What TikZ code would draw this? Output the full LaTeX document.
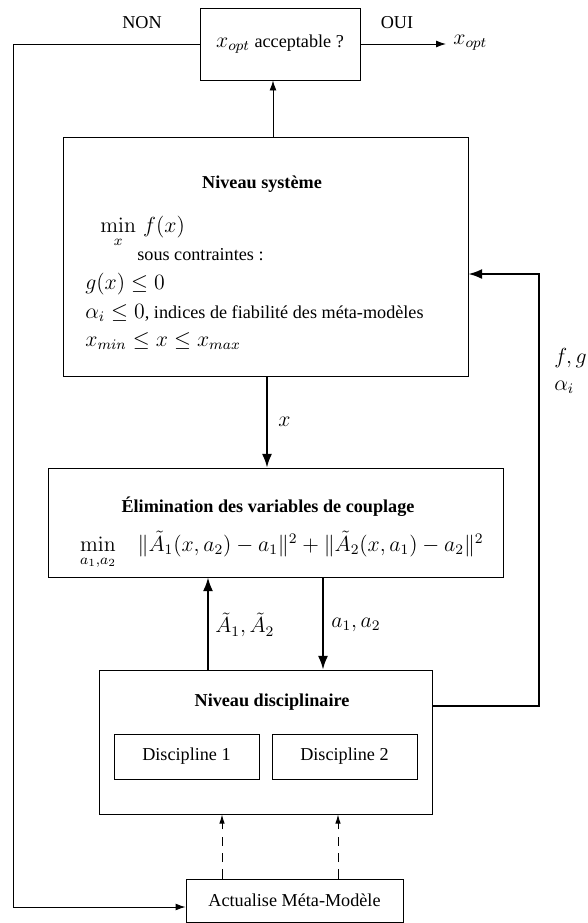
\documentclass[tikz,border=0pt]{standalone}
\usepackage{amsmath}
\usepackage{amssymb}
\usepackage[no-math]{fontspec}
\setmainfont{Liberation Serif}
\DeclareMathSizes{10}{12}{8}{6}
\usetikzlibrary{arrows.meta}

\begin{document}
\begin{tikzpicture}[x=0.55pt,y=-0.55pt,
	every node/.style={black},
	box/.style={draw,line width=0.5pt,inner sep=0pt},
	lbl/.style={inner sep=0pt},
	fin/.style={line width=0.5pt,-{Latex[length=5.5pt,width=3.8pt]}},
	gros/.style={line width=1pt,-{Latex[length=7.5pt,width=5.5pt]}},
	tirets/.style={line width=0.5pt,dash pattern=on 5pt off 4pt,-{Latex[length=5pt,width=3pt]}}]
	\useasboundingbox (0,0) rectangle (587,923);

	\coordinate (coin) at (13,907);
	\coordinate (fb1) at (539,706);
	\coordinate (fb2) at (539,274);

	% les boites
	\node[box,minimum width=88pt,minimum height=39.6pt] (acc) at (280,44) {$x_{opt}$ acceptable ?};
	\node[box,minimum width=222.75pt,minimum height=131.45pt] (sys) at (265.5,256.5) {};
	\node[box,minimum width=250.25pt,minimum height=59.95pt] (elim) at (275.5,522.5) {};
	\node[box,minimum width=183.15pt,minimum height=79.2pt] (disc) at (265.5,742) {};
	\node[box,minimum width=79.75pt,minimum height=24.75pt] (d1) at (186.5,756.5) {Discipline 1};
	\node[box,minimum width=79.75pt,minimum height=24.75pt] (d2) at (344.5,756.5) {Discipline 2};
	\node[box,minimum width=119.35pt,minimum height=23.65pt] (maj) at (294.5,900.5) {Actualise Méta-Modèle};

	% niveau systeme
	\node[lbl,anchor=base] (titsys) at (262,188) {\textbf{Niveau système}};
	\node[lbl,anchor=base west] (obj) at (100,232) {$\min\limits_{x}\, f(x)$};
	\node[lbl,anchor=base west] (sc) at (137,260) {sous contraintes :};
	\node[lbl,anchor=base west] (c1) at (85,289) {$g(x)\leq 0$};
	\node[lbl,anchor=base west] (c2) at (85,318) {$\alpha_i\leq 0$, indices de fiabilité des méta-modèles};
	\node[lbl,anchor=base west] (c3) at (85,346) {$x_{min}\leq x\leq x_{max}$};

	% elimination et niveau disciplinaire
	\node[lbl,anchor=base] (titelim) at (268,512) {\textbf{Élimination des variables de couplage}};
	\node[lbl,anchor=base east] (formule) at (484,551) {$\min\limits_{a_1,a_2}\quad\|\tilde{A}_1(x,a_2)-a_1\|^2+\|\tilde{A}_2(x,a_1)-a_2\|^2$};
	\node[lbl,anchor=base] (titdisc) at (272,706) {\textbf{Niveau disciplinaire}};

	% etiquettes
	\node[lbl] (non) at (142,23) {NON};
	\node[lbl] (oui) at (397,23) {OUI};
	\node[lbl,anchor=west] (xopt) at (453,43) {$x_{opt}$};
	\node[lbl,anchor=west] (lx) at (278,422) {$x$};
	\node[lbl,anchor=west] (lA) at (215,625) {$\tilde{A}_1,\tilde{A}_2$};
	\node[lbl,anchor=west] (la) at (331,625) {$a_1,a_2$};
	\node[lbl,anchor=west] (lfg) at (554,358) {$f,g$};
	\node[lbl,anchor=west] (lalpha) at (554,387) {$\alpha_i$};

	% liaisons
	\draw[fin] (acc.west) -| (coin) -- (maj.west |- coin);
	\draw[fin,shorten >=3.85pt] (acc.east) -- (xopt.west |- acc.east);
	\draw[fin] (sys.north -| 273,0) -- (acc.south -| 273,0);
	\draw[gros] (sys.south -| 267,0) -- (elim.north -| 267,0);
	\draw[gros] (disc.north -| 208,0) -- (elim.south -| 208,0);
	\draw[gros] (elim.south -| 323,0) -- (disc.north -| 323,0);
	\draw[gros] (disc.east |- fb1) -- (fb1) -- (fb2) -- (sys.east |- fb2);
	\draw[tirets] (maj.north -| 222,0) -- (disc.south -| 222,0);
	\draw[tirets] (maj.north -| 338,0) -- (disc.south -| 338,0);
\end{tikzpicture}
\end{document}
